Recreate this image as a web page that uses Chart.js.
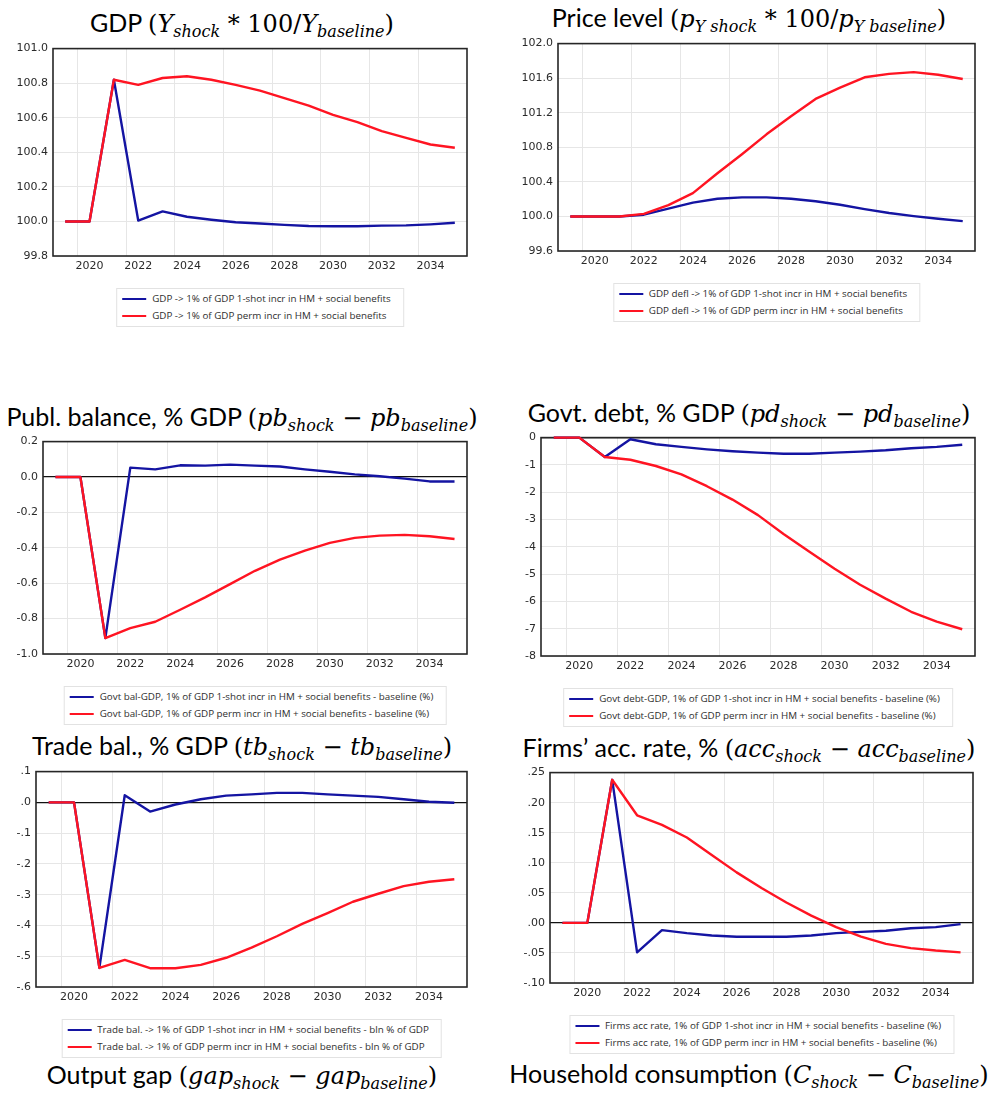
<!DOCTYPE html>
<html>
<head>
<meta charset="utf-8">
<script src="https://cdn.jsdelivr.net/npm/chart.js@4.4.0/dist/chart.umd.min.js"></script>
<style>
  body { margin: 0; background: #fff; }
  #page { position: relative; width: 992px; height: 1095px; overflow: hidden; background: #fff; }
  .title { position: absolute; width: 560px; text-align: center; font-family: Lato, sans-serif; font-size: 25px; line-height: 30px; color: #000; white-space: nowrap; }
  .title .m { font-family: "DejaVu Serif", serif; font-size: 24px; }
  .title sub { font-size: 16px; vertical-align: -5px; line-height: 0; }
  .panel { position: absolute; }
  .legend { position: absolute; transform: translateX(-50%); border: 1px solid #e2e2e2; background: #fff;
            padding: 1px 12px 2px 5px; font-family: "Open Sans", sans-serif; font-size: 9.8px; color: #2e2e2e; white-space: nowrap; }
  .legend div { height: 17px; display: flex; align-items: center; }
  .legend .sw { display: inline-block; width: 24px; height: 2px; margin-right: 6px; }
</style>
</head>
<body>
<div id="page"></div>
<script>
const years = [2019, 2020, 2021, 2022, 2023, 2024, 2025, 2026, 2027, 2028, 2029, 2030, 2031, 2032, 2033, 2034, 2035]

// GDP (shock*100/baseline)
const gdpOneShot = [100, 100, 100.82, 100.005, 100.058, 100.027, 100.01, 99.995, 99.988, 99.98, 99.974, 99.972, 99.972, 99.976, 99.977, 99.983, 99.992]
const gdpPerm = [100, 100, 100.82, 100.79, 100.83, 100.84, 100.82, 100.79, 100.757, 100.714, 100.67, 100.617, 100.574, 100.523, 100.484, 100.445, 100.426]
const gdpTicks = [99.8, 100.0, 100.2, 100.4, 100.6, 100.8, 101.0]

// Price level
const defOneShot = [100, 100, 100, 100.02, 100.09, 100.16, 100.205, 100.22, 100.22, 100.205, 100.175, 100.135, 100.085, 100.04, 100.004, 99.973, 99.946]
const defPerm = [100, 100, 100, 100.03, 100.13, 100.27, 100.5, 100.72, 100.95, 101.16, 101.36, 101.49, 101.61, 101.65, 101.67, 101.64, 101.59]
const defTicks = [99.6, 100.0, 100.4, 100.8, 101.2, 101.6, 102.0]

// Public balance
const balOneShot = [0, 0, -0.91, 0.053, 0.043, 0.066, 0.064, 0.07, 0.064, 0.059, 0.043, 0.03, 0.015, 0.004, -0.009, -0.025, -0.025]
const balPerm = [0, 0, -0.91, -0.854, -0.818, -0.75, -0.68, -0.605, -0.53, -0.467, -0.416, -0.372, -0.344, -0.331, -0.327, -0.335, -0.35]
const balTicks = [-1.0, -0.8, -0.6, -0.4, -0.2, 0.0, 0.2]

// Government debt
const debtOneShot = [0, 0, -0.71, -0.06, -0.245, -0.34, -0.43, -0.5, -0.55, -0.59, -0.59, -0.55, -0.515, -0.465, -0.39, -0.34, -0.26]
const debtPerm = [0, 0, -0.71, -0.81, -1.04, -1.35, -1.78, -2.27, -2.84, -3.53, -4.17, -4.8, -5.39, -5.9, -6.38, -6.74, -7.02]
const debtTicks = [-8, -7, -6, -5, -4, -3, -2, -1, 0]

// Trade balance
const tradeOneShot = [0, 0, -0.538, 0.023, -0.03, -0.007, 0.01, 0.022, 0.026, 0.031, 0.031, 0.026, 0.022, 0.018, 0.01, 0.002, -0.001]
const tradePerm = [0, 0, -0.538, -0.512, -0.539, -0.539, -0.528, -0.505, -0.472, -0.435, -0.395, -0.36, -0.323, -0.297, -0.272, -0.258, -0.25]
const tradeTicks = [-0.6, -0.5, -0.4, -0.3, -0.2, -0.1, 0.0, 0.1]

// Firms accumulation rate
const accOneShot = [0, 0, 0.238, -0.049, -0.012, -0.017, -0.021, -0.023, -0.023, -0.023, -0.021, -0.017, -0.015, -0.013, -0.009, -0.007, -0.002]
const accPerm = [0, 0, 0.238, 0.179, 0.163, 0.142, 0.113, 0.084, 0.058, 0.034, 0.012, -0.007, -0.023, -0.035, -0.042, -0.046, -0.049]
const accTicks = [-0.10, -0.05, 0.00, 0.05, 0.10, 0.15, 0.20, 0.25]

const gdpLegend = ['GDP -> 1% of GDP 1-shot incr in HM + social benefits', 'GDP -> 1% of GDP perm incr in HM + social benefits']
const defLegend = ['GDP defl -> 1% of GDP 1-shot incr in HM + social benefits', 'GDP defl -> 1% of GDP perm incr in HM + social benefits']
const balLegend = ['Govt bal-GDP, 1% of GDP 1-shot incr in HM + social benefits - baseline (%)', 'Govt bal-GDP, 1% of GDP perm incr in HM + social benefits - baseline (%)']
const debtLegend = ['Govt debt-GDP, 1% of GDP 1-shot incr in HM + social benefits - baseline (%)', 'Govt debt-GDP, 1% of GDP perm incr in HM + social benefits - baseline (%)']
const tradeLegend = ['Trade bal. -> 1% of GDP 1-shot incr in HM + social benefits - bln % of GDP', 'Trade bal. -> 1% of GDP perm incr in HM + social benefits - bln % of GDP']
const accLegend = ['Firms acc rate, 1% of GDP 1-shot incr in HM + social benefits - baseline (%)', 'Firms acc rate, 1% of GDP perm incr in HM + social benefits - baseline (%)']

const BLUE = '#1414a2'
const RED = '#ff1422'
const page = document.getElementById('page')

// titles: [centre x, top, html]
const titles = [
  [242, 7, 'GDP <span class="m">(<i>Y</i><sub><i>shock</i></sub> * 100/<i>Y</i><sub><i>baseline</i></sub>)</span>'],
  [749, 2, 'Price level <span class="m">(<i>p</i><sub><i>Y shock</i></sub> * 100/<i>p</i><sub><i>Y baseline</i></sub>)</span>'],
  [242, 401, 'Publ. balance, % GDP <span class="m">(<i>pb</i><sub><i>shock</i></sub> − <i>pb</i><sub><i>baseline</i></sub>)</span>'],
  [749, 397, 'Govt. debt, % GDP <span class="m">(<i>pd</i><sub><i>shock</i></sub> − <i>pd</i><sub><i>baseline</i></sub>)</span>'],
  [242, 730, 'Trade bal., % GDP <span class="m">(<i>tb</i><sub><i>shock</i></sub> − <i>tb</i><sub><i>baseline</i></sub>)</span>'],
  [749, 732, 'Firms’ acc. rate, % <span class="m">(<i>acc</i><sub><i>shock</i></sub> − <i>acc</i><sub><i>baseline</i></sub>)</span>'],
  [242, 1059, 'Output gap <span class="m">(<i>gap</i><sub><i>shock</i></sub> − <i>gap</i><sub><i>baseline</i></sub>)</span>'],
  [749, 1058, 'Household consumption <span class="m">(<i>C</i><sub><i>shock</i></sub> − <i>C</i><sub><i>baseline</i></sub>)</span>']
]
titles.forEach(([cx, top, html]) => {
  const d = document.createElement('div')
  d.className = 'title'
  d.style.left = (cx - 280) + 'px'
  d.style.top = top + 'px'
  d.innerHTML = html
  page.appendChild(d)
})

// plot frame: Chart.js only draws left/bottom borders, so box the whole area
const framePlugin = {
  id: 'frame',
  beforeDatasetsDraw(chart) {
    const { ctx, chartArea: a } = chart
    ctx.save()
    ctx.strokeStyle = '#262626'
    ctx.lineWidth = 1.6
    ctx.strokeRect(a.left, a.top, a.right - a.left, a.bottom - a.top)
    ctx.restore()
  }
}

const fmt1 = v => v.toFixed(1)
const fmtInt = v => String(Math.round(v))
const fmtDot1 = v => (Math.abs(v) < 1e-9 ? 0 : v).toFixed(1).replace('0.', '.')
const fmtDot2 = v => (Math.abs(v) < 1e-9 ? 0 : v).toFixed(2).replace('0.', '.')

const Y_W = 50, PAD_T = 10, PAD_R = 10, X_H = 25

function makePanel(area, oneShot, perm, ticks, fmt, zeroLine, legend) {
  const [L, T, R, B] = area
  const canvas = document.createElement('canvas')
  canvas.className = 'panel'
  canvas.width = R - L + Y_W + PAD_R
  canvas.height = B - T + PAD_T + X_H
  canvas.style.left = (L - Y_W) + 'px'
  canvas.style.top = (T - PAD_T) + 'px'
  page.appendChild(canvas)

  const tickFont = { family: 'DejaVu Sans', size: 11 }
  const lineStyle = { borderWidth: 2.4, pointRadius: 0, tension: 0, borderJoinStyle: 'round', clip: 4 }
  new Chart(canvas.getContext('2d'), {
    type: 'line',
    data: {
      labels: years,
      datasets: [
        Object.assign({ label: legend[0], data: oneShot, borderColor: BLUE, order: 1 }, lineStyle),
        Object.assign({ label: legend[1], data: perm, borderColor: RED, order: 0 }, lineStyle)
      ]
    },
    options: {
      responsive: false,
      animation: false,
      layout: { padding: { top: PAD_T, right: PAD_R, left: 0, bottom: 0 } },
      plugins: { legend: { display: false }, tooltip: { enabled: false } },
      scales: {
        x: {
          type: 'category',
          offset: true,
          afterFit: s => { s.height = X_H },
          border: { display: false },
          grid: {
            offset: true,
            drawTicks: false,
            color: ctx => (years[ctx.index] !== undefined && years[ctx.index] % 2 === 0) ? '#e6e6e6' : 'rgba(0,0,0,0)'
          },
          ticks: {
            autoSkip: false, maxRotation: 0, padding: 4, color: '#2a2a2a', font: tickFont,
            callback: (v, i) => years[i] % 2 === 0 ? String(years[i]) : ''
          }
        },
        y: {
          min: ticks[0],
          max: ticks[ticks.length - 1],
          afterBuildTicks: s => { s.ticks = ticks.map(v => ({ value: v })) },
          afterFit: s => { s.width = Y_W },
          border: { display: false },
          grid: {
            drawTicks: false,
            color: ctx => (zeroLine && ctx.tick && Math.abs(ctx.tick.value) < 1e-9) ? '#111' : '#e6e6e6',
            lineWidth: ctx => (zeroLine && ctx.tick && Math.abs(ctx.tick.value) < 1e-9) ? 1.3 : 1
          },
          ticks: { padding: 5, color: '#2a2a2a', font: tickFont, callback: v => fmt(v) }
        }
      }
    },
    plugins: [framePlugin]
  })

  // boxed legend centred under the plot
  const lg = document.createElement('div')
  lg.className = 'legend'
  lg.style.left = ((L + R) / 2) + 'px'
  lg.style.top = (B + 32) + 'px'
  ;[BLUE, RED].forEach((c, i) => {
    const row = document.createElement('div')
    row.innerHTML = '<span class="sw" style="background:' + c + '"></span>'
    row.appendChild(document.createTextNode(legend[i]))
    lg.appendChild(row)
  })
  page.appendChild(lg)
}

makePanel([53, 47, 467, 256], gdpOneShot, gdpPerm, gdpTicks, fmt1, false, gdpLegend)
makePanel([558, 42, 975, 251], defOneShot, defPerm, defTicks, fmt1, false, defLegend)
makePanel([43, 440, 467, 654], balOneShot, balPerm, balTicks, fmt1, true, balLegend)
makePanel([541, 436, 975, 656], debtOneShot, debtPerm, debtTicks, fmtInt, true, debtLegend)
makePanel([36, 770, 467, 987], tradeOneShot, tradePerm, tradeTicks, fmtDot1, true, tradeLegend)
makePanel([550, 771, 973, 983], accOneShot, accPerm, accTicks, fmtDot2, true, accLegend)
</script>
</body>
</html>
